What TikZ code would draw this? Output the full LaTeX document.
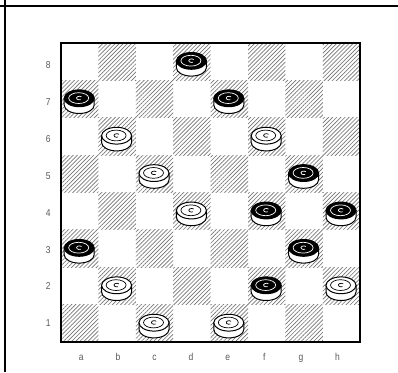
\documentclass[tikz,border=0pt]{standalone}
\usepackage{fontspec}
\setmainfont{Liberation Sans}
\usetikzlibrary{patterns.meta}
\tikzset{
  lbl/.style={font=\fontsize{10}{12}\selectfont, text=black!65, inner sep=0pt, anchor=base, xscale=0.85},
  hatchsq/.style={pattern={Lines[angle=45,distance=2.9pt,line width=0.65pt]}, pattern color=black!55},
  frameline/.style={line width=2pt, black},
  pieceline/.style={line width=1pt, black},
}
% board geometry (pixel units)
\def\bL{61}\def\bT{43}\def\sq{37.4}
\newcommand\checker[4]{% column, row, top fill, ring colour
  \pgfmathsetmacro\cx{\bL+\sq*(#1-0.5)}
  \pgfmathsetmacro\cy{372-(\bT+\sq*(8-#2)+\sq/2)}
  \begin{scope}[shift={(\cx,\cy)}]
    \filldraw[pieceline, fill=white] (-15.5,0.8) -- (-15.5,-6) arc[start angle=180, end angle=360, x radius=15, y radius=8.4] -- (14.5,0.8) -- cycle;
    \filldraw[pieceline, fill=#3] (-0.5,0.8) ellipse[x radius=15, y radius=8.4];
    \draw[#4, line width=0.7pt] (-1,1.0) ellipse[x radius=10, y radius=5.4];
    \draw[#4, line width=0.7pt] (1.8,2.2) arc[start angle=40, end angle=300, x radius=2.8, y radius=1.8];
  \end{scope}}
\begin{document}
\begin{tikzpicture}[x=1pt,y=1pt]
  \useasboundingbox (0,0) rectangle (398,372);
  \fill[white] (0,0) rectangle (398,372);
  % frame lines
  \coordinate (ftl) at (0,366);
  \coordinate (ftr) at (398,366);
  \coordinate (flb) at (5,0);
  \coordinate (flt) at (5,372);
  \draw[frameline] (ftl) -- (ftr);
  \draw[frameline] (flb) -- (flt);
  % hatched squares
  \foreach \c in {1,...,8}{
    \foreach \r in {1,...,8}{
      \pgfmathtruncatemacro\parity{mod(\c+\r,2)}
      \ifnum\parity=0
        \pgfmathsetmacro\xa{\bL+\sq*(\c-1)}
        \pgfmathsetmacro\ya{372-(\bT+\sq*(8-\r))}
        \fill[hatchsq] (\xa,\ya) rectangle ++(\sq,-\sq);
      \fi
    }
  }
  % board border
  \draw[line width=2.2pt] (\bL,372-\bT) rectangle (\bL+8*\sq,372-\bT-8*\sq);
  % pieces
  \foreach \c/\r in {4/8,1/7,5/7,7/5,6/4,8/4,1/3,7/3,6/2}{\checker{\c}{\r}{black}{white}}
  \foreach \c/\r in {2/6,6/6,3/5,4/4,2/2,8/2,3/1,5/1}{\checker{\c}{\r}{white}{black}}
  % rank labels
  \foreach \r in {1,...,8}{
    \pgfmathsetmacro\ly{372-(69+36.8*(8-\r))}
    \node[lbl] (rank\r) at (48.3,\ly) {\r};
  }
  % file labels
  \foreach \f [count=\i] in {a,b,c,d,e,f,g,h}{
    \pgfmathsetmacro\lx{81.3+36.6*(\i-1)}
    \node[lbl] (file\f) at (\lx,12) {\f};
  }
\end{tikzpicture}
\end{document}
